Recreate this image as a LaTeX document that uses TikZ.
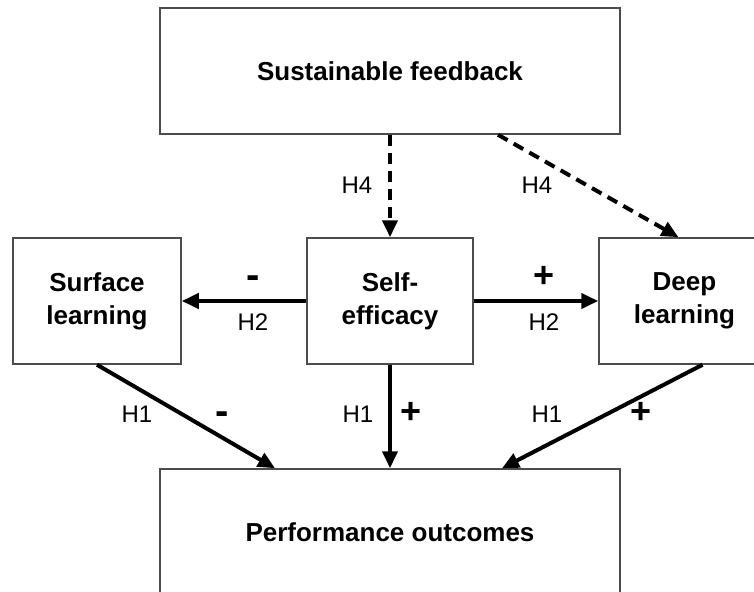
\documentclass[tikz,border=0pt]{standalone}
\usepackage{fontspec}
\setmainfont{Liberation Sans}
\usetikzlibrary{arrows.meta}

\begin{document}
\begin{tikzpicture}[
  x=1pt, y=-1pt,
  box/.style={draw=black!70, line width=1.5pt, minimum height=126pt, inner sep=0pt, align=center, font=\bfseries\fontsize{26}{33}\selectfont},
  lbl/.style={inner sep=0pt, font=\fontsize{24}{28}\selectfont},
  sgn/.style={inner sep=0pt, font=\bfseries\fontsize{36}{38}\selectfont},
  mns/.style={inner sep=0pt, font=\bfseries\fontsize{40}{42}\selectfont},
  arr/.style={-{Triangle[length=17pt,width=15pt]}, line width=4pt},
  darr/.style={arr, dash pattern=on 11pt off 7pt}
]
\useasboundingbox (0,0) rectangle (754,591);
\clip (0,0) rectangle (754,591);

\node[box, minimum width=460pt] (feedback) at (390,71) {Sustainable feedback};
\node[box, minimum width=168pt] (surface) at (97,301) {Surface\\learning};
\node[box, minimum width=166pt] (selfeff) at (390,301) {Self-\\efficacy};
\node[box, minimum width=171pt] (deep) at (684.5,301) {Deep\\learning};
\node[box, minimum width=460pt] (outcomes) at (390,532) {Performance outcomes};

\draw[darr] (feedback.south) -- (selfeff.north);
\draw[darr] ([xshift=108pt]feedback.south) -- ([xshift=-6pt]deep.north);
\draw[arr] (selfeff.west) -- (surface.east);
\draw[arr] (selfeff.east) -- (deep.west);
\draw[arr] (surface.south) -- ([xshift=-115pt]outcomes.north);
\draw[arr] (selfeff.south) -- (outcomes.north);
\draw[arr] ([xshift=18pt]deep.south) -- ([xshift=112pt]outcomes.north);

% labels
\node[lbl] (h4a) at (357,185) {H4};
\node[lbl] (h4b) at (537,185) {H4};
\node[mns] (s2a) at (253,282) {-};
\node[lbl] (h2a) at (253,322) {H2};
\node[sgn] (s2b) at (544,277) {+};
\node[lbl] (h2b) at (544,322) {H2};
\node[lbl] (h1a) at (137,414) {H1};
\node[mns] (s1a) at (222,418) {-};
\node[lbl] (h1b) at (358,414) {H1};
\node[sgn] (s1b) at (411,413) {+};
\node[lbl] (h1c) at (547,414) {H1};
\node[sgn] (s1c) at (641,413) {+};
\end{tikzpicture}
\end{document}
